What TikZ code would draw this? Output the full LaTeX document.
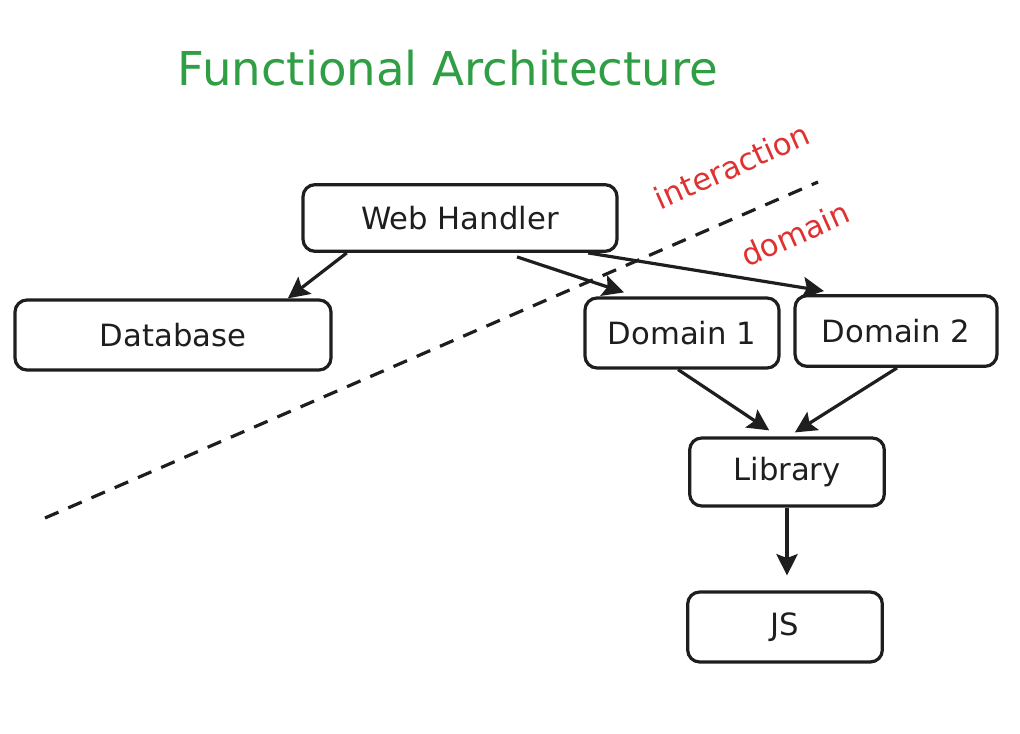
\documentclass[tikz,border=0pt]{standalone}
\usepackage{fontspec}
\setmainfont{DejaVu Sans}
\usetikzlibrary{arrows.meta,calc}
\definecolor{ttlgreen}{HTML}{2F9E44}
\definecolor{lblred}{HTML}{E03131}
\definecolor{ink}{HTML}{1E1E1E}
\tikzset{
  box/.style={draw=ink, line width=2.4pt, rounded corners=9pt, text=ink,
    font=\fontsize{23}{27}\selectfont, inner sep=0pt},
  conn/.style={draw=ink, line width=2.4pt,
    -{Stealth[length=16pt,width=16pt,inset=3pt]}},
  redlbl/.style={text=lblred, font=\fontsize{23}{27}\selectfont, rotate=24},
}
\begin{document}
\begin{tikzpicture}[x=0.75pt,y=-0.75pt]
\useasboundingbox (0,0) rectangle (1020,734);

\node[text=ttlgreen, font=\fontsize{35}{40}\selectfont] (title) at (448,68) {Functional Architecture};

\coordinate (dA) at (45,518);
\coordinate (dB) at (818,182);
\draw[ink, line width=2.4pt, dash pattern=on 11pt off 8pt] (dA) -- (dB);

\node[redlbl] (inter) at (732,166) {interaction};
\node[redlbl] (dom) at (795,234) {domain};

\node[box, minimum width=235.5pt, minimum height=50pt] (wh) at (460,218) {Web Handler};
\node[box, minimum width=237pt, minimum height=52.5pt] (db) at (173,335) {Database};
\node[box, minimum width=145.5pt, minimum height=52.5pt] (d1) at (682,333) {Domain 1};
\node[box, minimum width=151.5pt, minimum height=53pt] (d2) at (896,331) {Domain 2};
\node[box, minimum width=146pt, minimum height=51pt] (lib) at (787,472) {Library};
\node[box, minimum width=146pt, minimum height=52.5pt] (js) at (785,627) {JS};

\draw[conn] ($(wh.south west)!0.143!(wh.south east)$) -- ($(db.north west)!0.86!(db.north east)$);
\draw[conn] ($(wh.south west)!0.68!(wh.south east)+(0,4)$) -- ($(d1.north west)!0.206!(d1.north east)+(0,-4)$);
\draw[conn] ($(wh.south west)!0.904!(wh.south east)$) -- ($(d2.north west)!0.149!(d2.north east)+(0,-3)$);
\draw[conn] ($(d1.south west)!0.48!(d1.south east)$) -- ($(lib.north west)!0.41!(lib.north east)+(0,-6)$);
\draw[conn] ($(d2.south west)!0.505!(d2.south east)$) -- ($(lib.north west)!0.54!(lib.north east)+(0,-4)$);
\draw[conn] (lib.south) -- ($(lib.south |- js.north)+(0,-15)$);
\end{tikzpicture}
\end{document}
